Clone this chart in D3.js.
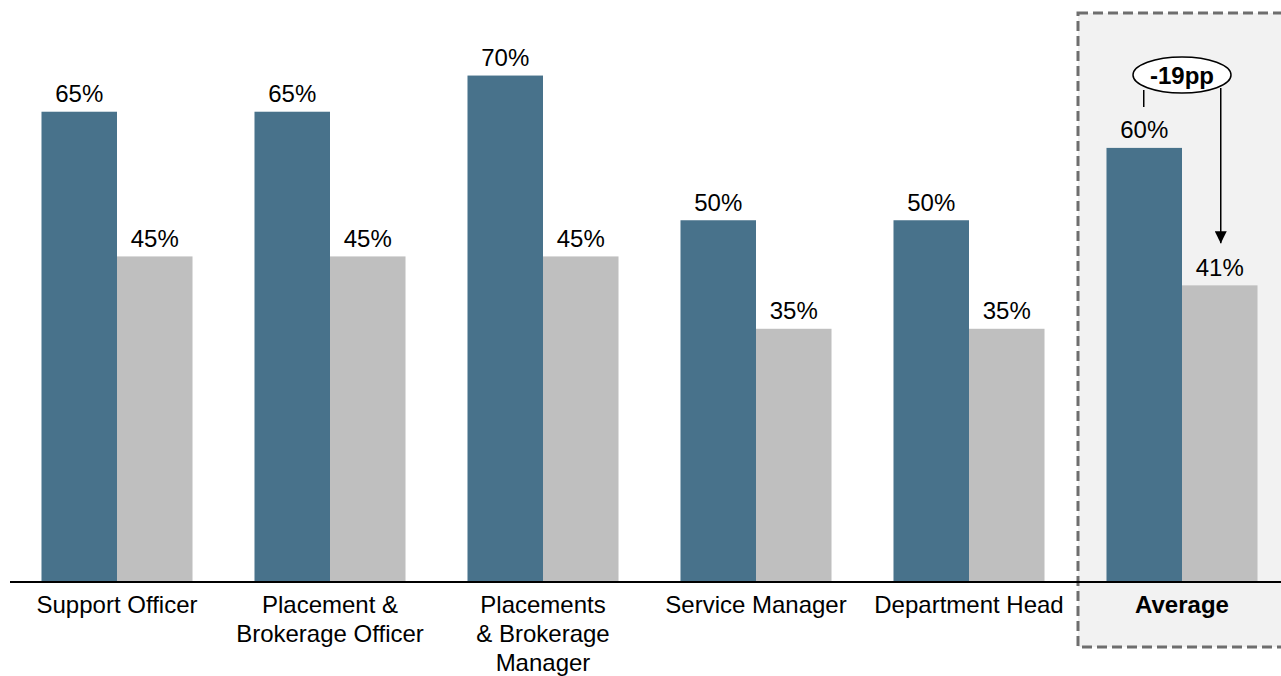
<!DOCTYPE html>
<html><head><meta charset="utf-8">
<script src="https://cdn.jsdelivr.net/npm/d3@7"></script>
<style>body{margin:0;background:#fff;}svg{display:block;font-family:"Liberation Sans",Arial,sans-serif;}</style>
</head><body>
<svg id="c" width="1281" height="676"></svg>
<script>
const categories = [["Support Officer"],["Placement &","Brokerage Officer"],["Placements","& Brokerage","Manager"],["Service Manager"],["Department Head"],["Average"]];
const seriesA = [65, 65, 70, 50, 50, 60];
const seriesB = [45, 45, 45, 35, 35, 41];
const deltaLabel = "-19pp";

const svg = d3.select("#c");
const W = 1281, H = 676;
const baseY = 582;
const FS = 24;
const y = d3.scaleLinear().domain([0, 80]).range([baseY, baseY - 7.235*80]);
const x = d3.scaleBand().domain(d3.range(categories.length)).range([10.5, 1288.5]).paddingInner(0.291).paddingOuter(0.1455);
const bw = x.bandwidth()/2;
const colA = "#48728b", colB = "#bfbfbf";

// highlight box for Average
const avgI = categories.length - 1;
svg.append("rect").attr("x", 1078).attr("y", 13).attr("width", 260).attr("height", 634)
  .attr("fill", "#f2f2f2").attr("stroke", "#6e6e6e").attr("stroke-width", 3).attr("stroke-dasharray", "10,5");

const g = svg.append("g");
categories.forEach((c, i) => {
  const x0 = x(i);
  g.append("rect").attr("x", x0).attr("y", y(seriesA[i])).attr("width", bw).attr("height", baseY - y(seriesA[i])).attr("fill", colA);
  g.append("rect").attr("x", x0 + bw).attr("y", y(seriesB[i])).attr("width", bw).attr("height", baseY - y(seriesB[i])).attr("fill", colB);
  g.append("text").attr("x", x0 + bw/2).attr("y", y(seriesA[i]) - 9.5).attr("text-anchor", "middle")
    .attr("font-size", FS).attr("fill", "#000").text(seriesA[i] + "%");
  g.append("text").attr("x", x0 + bw*1.5).attr("y", y(seriesB[i]) - 9.5).attr("text-anchor", "middle")
    .attr("font-size", FS).attr("fill", "#000").text(seriesB[i] + "%");
  const t = g.append("text").attr("text-anchor", "middle").attr("font-size", FS).attr("fill", "#000")
    .attr("font-weight", i === avgI ? "bold" : "normal");
  c.forEach((line, k) => {
    t.append("tspan").attr("x", x0 + bw).attr("y", 613 + k*29).text(line);
  });
});

// axis baseline
svg.append("line").attr("x1", 10).attr("x2", W).attr("y1", baseY).attr("y2", baseY).attr("stroke", "#000").attr("stroke-width", 2);

// annotation
const leftX = x(avgI) + bw/2 - 0.5, rightX = x(avgI) + bw*1.5 + 1;
const ex = x(avgI) + bw, ey = 75;
svg.append("defs").append("marker").attr("id", "arr").attr("viewBox", "0 0 10 10").attr("refX", 10).attr("refY", 5)
  .attr("markerWidth", 12).attr("markerHeight", 12).attr("markerUnits", "userSpaceOnUse").attr("orient", "auto")
  .append("path").attr("d", "M0,0L10,5L0,10Z").attr("fill", "#000");
svg.append("line").attr("x1", leftX).attr("x2", leftX).attr("y1", 90).attr("y2", 107).attr("stroke", "#000").attr("stroke-width", 1.5);
svg.append("line").attr("x1", rightX).attr("x2", rightX).attr("y1", 88).attr("y2", y(seriesB[avgI]) - 42).attr("stroke", "#000").attr("stroke-width", 1.5).attr("marker-end", "url(#arr)");
svg.append("ellipse").attr("cx", ex).attr("cy", ey).attr("rx", 49).attr("ry", 18).attr("fill", "#fff").attr("stroke", "#000").attr("stroke-width", 1.5);
svg.append("text").attr("x", ex).attr("y", ey + 8.5).attr("text-anchor", "middle").attr("font-size", FS).attr("font-weight", "bold").text(deltaLabel);
</script>
</body></html>
